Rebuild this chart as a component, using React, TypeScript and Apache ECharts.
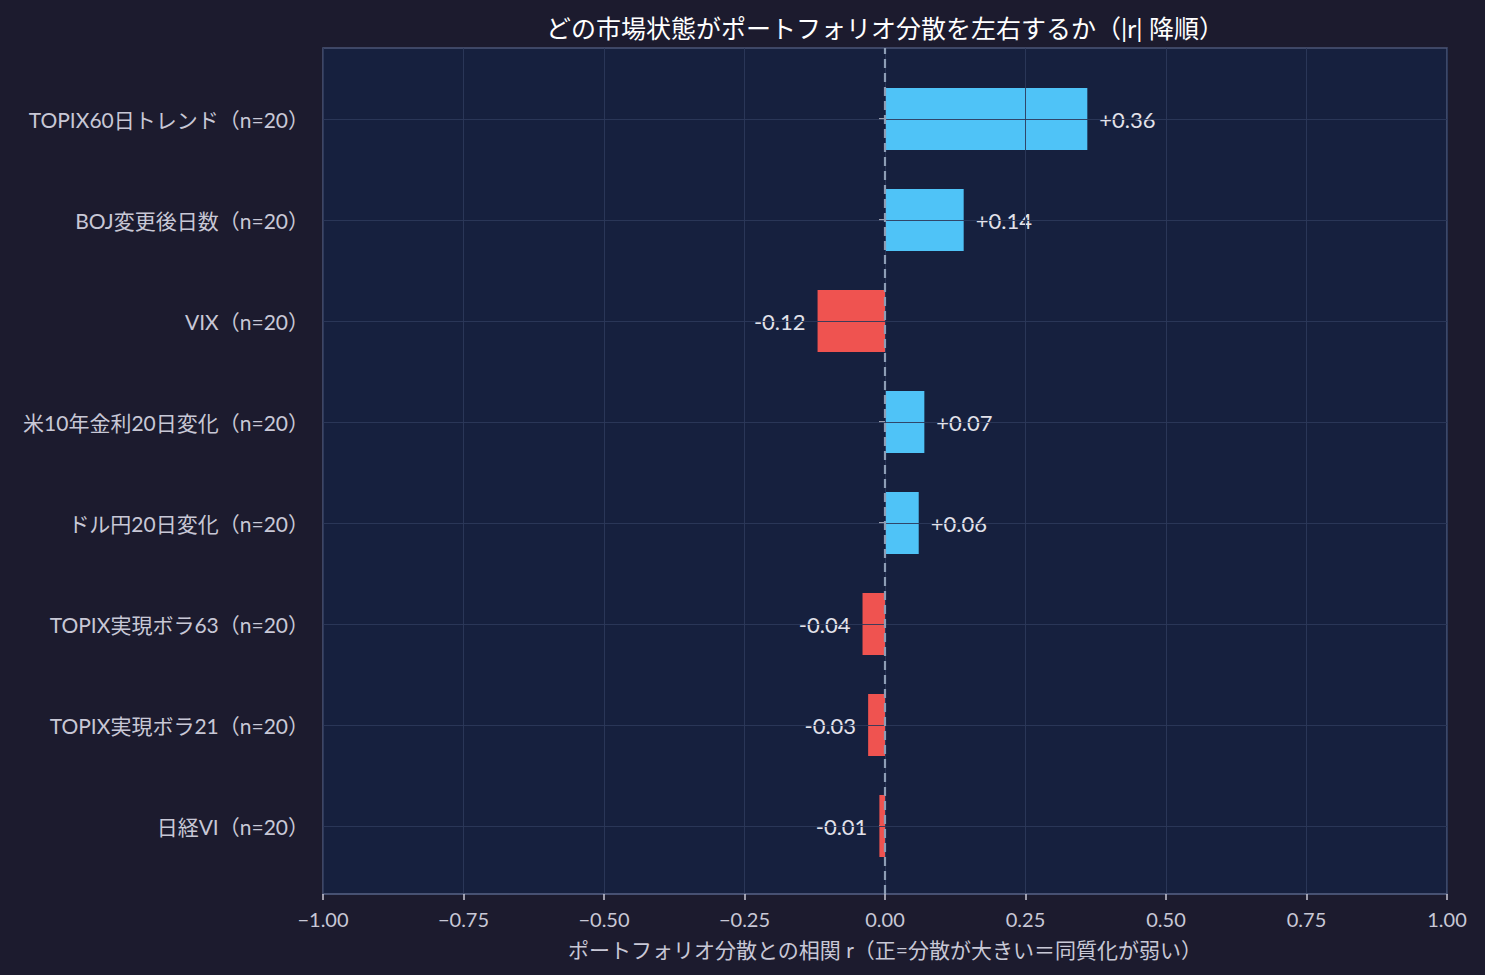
import React, { useEffect, useRef } from "react";
import * as echarts from "echarts";

const categories = [
  "TOPIX60日トレンド（n=20）",
  "BOJ変更後日数（n=20）",
  "VIX（n=20）",
  "米10年金利20日変化（n=20）",
  "ドル円20日変化（n=20）",
  "TOPIX実現ボラ63（n=20）",
  "TOPIX実現ボラ21（n=20）",
  "日経VI（n=20）",
];
const values = [0.36, 0.14, -0.12, 0.07, 0.06, -0.04, -0.03, -0.01];
const zeroLine = [
  [0, 0],
  [0, 1],
];
const titleText = "どの市場状態がポートフォリオ分散を左右するか（|r| 降順）";
const xName = "ポートフォリオ分散との相関 r（正=分散が大きい＝同質化が弱い）";

const FONT = "Lato, 'Noto Sans CJK JP', 'Noto Sans', sans-serif";
const POS = "#4fc3f7";
const NEG = "#ef5350";
const GRID = "rgba(44,56,90,0.9)";
const TXT = "#c8c8d6";

export default function App() {
  const ref = useRef<HTMLDivElement>(null);
  useEffect(() => {
    if (!ref.current) return;
    const chart = echarts.init(ref.current, undefined, { renderer: "svg" });
    const fmtTick = (v: number) => {
      const s = Math.abs(v).toFixed(2);
      return v < 0 ? "\u2212" + s : s;
    };
    chart.setOption({
      animation: false,
      backgroundColor: "#1c1b2e",
      textStyle: { fontFamily: FONT },
      title: {
        text: titleText,
        left: 880,
        textAlign: "center",
        top: 10,
        textStyle: { color: "#ffffff", fontSize: 25, fontWeight: "normal", fontFamily: FONT },
      },
      grid: [
        {
          left: 323,
          right: 38,
          top: 48,
          bottom: 81,
          show: true,
          backgroundColor: "#16203e",
          borderColor: "#4b5577",
          borderWidth: 1.5,
          z: 0,
        },
        {
          left: 323,
          right: 38,
          top: 68.5,
          bottom: 98.5,
        },
      ],
      xAxis: [
        {
          type: "value",
          gridIndex: 0,
          min: -1,
          max: 1,
          interval: 0.25,
          z: 3,
          axisLine: { show: true, lineStyle: { color: "#4b5577", width: 1.5 } },
          axisTick: { show: true, length: 6, lineStyle: { color: TXT, width: 1.5 } },
          axisLabel: {
            color: TXT,
            fontSize: 20,
            margin: 15,
            formatter: (v: number) => fmtTick(v),
            fontFamily: FONT,
          },
          splitLine: { show: true, lineStyle: { color: GRID, width: 1 } },
          name: xName,
          nameLocation: "middle",
          nameGap: 45,
          nameTextStyle: { color: TXT, fontSize: 21, fontFamily: FONT },
        },
        {
          type: "value",
          gridIndex: 1,
          min: -1,
          max: 1,
          show: false,
          splitLine: { show: false },
        },
      ],
      yAxis: [
        {
          type: "value",
          gridIndex: 0,
          min: 0,
          max: 1,
          show: false,
          splitLine: { show: false },
        },
        {
          type: "category",
          gridIndex: 1,
          data: categories,
          inverse: true,
          axisLine: { show: false },
          axisTick: {
            show: true,
            alignWithLabel: true,
            length: 6,
            lineStyle: { color: TXT, width: 1.5 },
          },
          axisLabel: { color: TXT, fontSize: 21, margin: 14, fontFamily: FONT },
          splitLine: { show: false },
        },
      ],
      series: [
        {
          type: "bar",
          xAxisIndex: 1,
          yAxisIndex: 1,
          barWidth: 62,
          z: 2,
          data: values.map((v) => ({
            value: v,
            itemStyle: { color: v >= 0 ? POS : NEG },
            label: {
              show: true,
              position: v >= 0 ? "right" : "left",
              distance: 12,
              color: "#e2e2ea",
              fontSize: 22,
              fontFamily: FONT,
              formatter: () => (v >= 0 ? "+" : "-") + Math.abs(v).toFixed(2),
            },
          })),
          markLine: {
            silent: true,
            symbol: "none",
            z: 4,
            label: { show: false },
            lineStyle: { color: GRID, width: 1, type: "solid" },
            emphasis: { disabled: true },
            data: categories.map((c) => ({ yAxis: c })),
          },
        },
        {
          type: "line",
          xAxisIndex: 0,
          yAxisIndex: 0,
          data: zeroLine,
          symbol: "none",
          z: 10,
          silent: true,
          lineStyle: { color: "#8d9db5", width: 2.2, type: [9, 5] },
        },
      ],
    });
    return () => chart.dispose();
  }, []);
  return (
    <div
      ref={ref}
      style={{ position: "fixed", left: 0, top: 0, width: 1485, height: 975 }}
    />
  );
}
